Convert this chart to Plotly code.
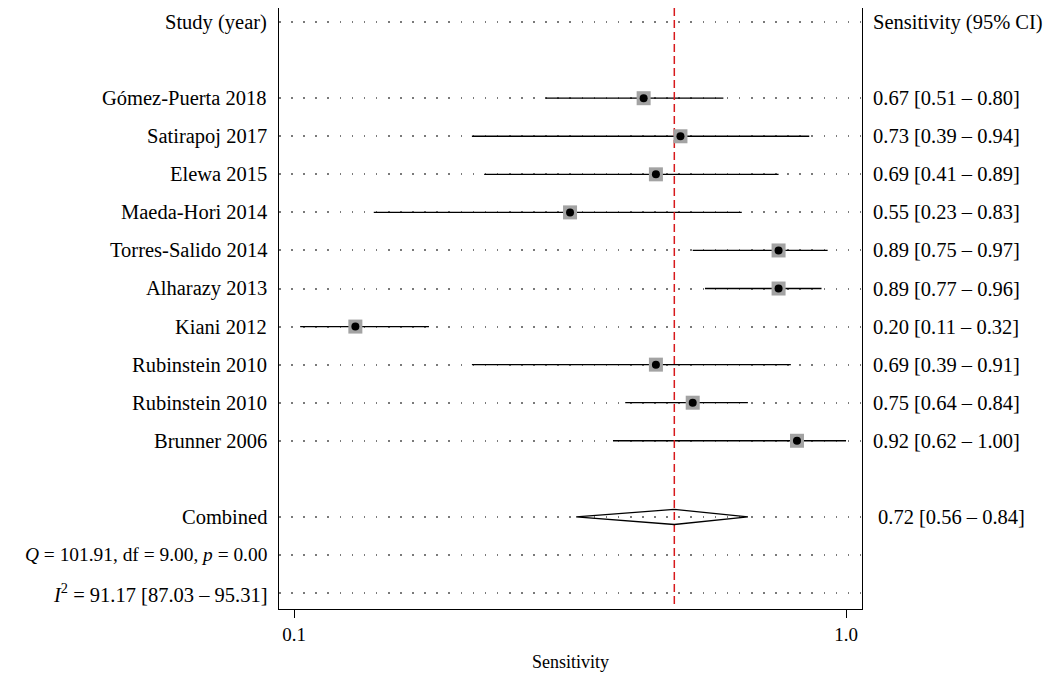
import plotly.graph_objects as go

# ---------------- data ----------------
studies = ["Gómez-Puerta 2018", "Satirapoj 2017", "Elewa 2015", "Maeda-Hori 2014",
           "Torres-Salido 2014", "Alharazy 2013", "Kiani 2012", "Rubinstein 2010",
           "Rubinstein 2010", "Brunner 2006"]
sens = [0.67, 0.73, 0.69, 0.55, 0.89, 0.89, 0.20, 0.69, 0.75, 0.92]
lower = [0.51, 0.39, 0.41, 0.23, 0.75, 0.77, 0.11, 0.39, 0.64, 0.62]
upper = [0.80, 0.94, 0.89, 0.83, 0.97, 0.96, 0.32, 0.91, 0.84, 1.00]

pooled = 0.72
pooled_lo = 0.56
pooled_hi = 0.84

header_left = "Study (year)"
header_right = "Sensitivity (95% CI)"
combined_label = "Combined"
q_label = "<i>Q</i> = 101.91, df = 9.00, <i>p</i> = 0.00"
i2_label = "<i>I</i><sup>2</sup> = 91.17 [87.03 – 95.31]"
x_title = "Sensitivity"
tick_vals = [0.1, 1.0]
tick_text = ["0.1", "1.0"]

# ---------------- layout helpers ----------------
FONT = "Liberation Serif"
FS = 20.5
header_row = 0
study_rows = list(range(2, 2 + len(studies)))
comb_row = study_rows[-1] + 2
q_row = comb_row + 1
i2_row = comb_row + 2
y_top = -0.37
y_bot = i2_row + 0.42

fig = go.Figure()

# whiskers
wx, wy = [], []
for lo, hi, r in zip(lower, upper, study_rows):
    wx += [lo, hi, None]
    wy += [r, r, None]
fig.add_trace(go.Scatter(x=wx, y=wy, mode="lines",
                         line=dict(color="black", width=1.3), hoverinfo="skip"))

# red dashed line at pooled estimate
fig.add_trace(go.Scatter(x=[pooled, pooled], y=[y_top, i2_row + 0.3], mode="lines",
                         line=dict(color="#d7191c", width=1.5, dash="8px,4px"),
                         hoverinfo="skip"))

# squares
fig.add_trace(go.Scatter(x=sens, y=study_rows, mode="markers",
                         marker=dict(symbol="square", size=14, color="#a3a3a3",
                                     line=dict(width=0))))
# dots
fig.add_trace(go.Scatter(x=sens, y=study_rows, mode="markers",
                         marker=dict(symbol="circle", size=8, color="black")))

# diamond
h = 0.2
fig.add_trace(go.Scatter(x=[pooled_lo, pooled, pooled_hi, pooled, pooled_lo],
                         y=[comb_row, comb_row - h, comb_row, comb_row + h, comb_row],
                         mode="lines", line=dict(color="black", width=1.3),
                         hoverinfo="skip"))

# ---------------- annotations ----------------
ann = []
def left(text, row, size=FS):
    ann.append(dict(text=text, xref="paper", x=0, xanchor="right", xshift=-10,
                    yref="y", y=row, yanchor="middle", showarrow=False,
                    font=dict(family=FONT, size=size, color="black")))

def right(text, row, shift=9):
    ann.append(dict(text=text, xref="paper", x=1, xanchor="left", xshift=shift,
                    yref="y", y=row, yanchor="middle", showarrow=False,
                    font=dict(family=FONT, size=FS, color="black")))

left(header_left, header_row)
right(header_right, header_row)
for s, e, lo, hi, r in zip(studies, sens, lower, upper, study_rows):
    left(s, r)
    right(f"{e:.2f} [{lo:.2f} – {hi:.2f}]", r)
left(combined_label, comb_row)
right(f"{pooled:.2f} [{pooled_lo:.2f} – {pooled_hi:.2f}]", comb_row, shift=14)
left(q_label, q_row, size=19.4)
left(i2_label, i2_row)

grid_rows = [header_row] + study_rows + [comb_row, q_row, i2_row]

fig.update_layout(
    width=1049, height=680,
    margin=dict(l=279, r=187, t=8, b=71),
    paper_bgcolor="white", plot_bgcolor="white",
    showlegend=False,
    annotations=ann,
    font=dict(family=FONT, size=FS, color="black"),
    xaxis=dict(range=[0.0755, 1.026], tickvals=tick_vals, ticktext=tick_text,
               ticks="outside", ticklen=8, tickwidth=1.3, tickcolor="black",
               showline=True, linecolor="black", linewidth=1.3, mirror=False,
               showgrid=False, zeroline=False,
               tickfont=dict(family=FONT, size=19, color="black"),
               title=dict(text=x_title, font=dict(family=FONT, size=18, color="black"),
                          standoff=11)),
    yaxis=dict(range=[y_bot, y_top], tickvals=grid_rows, showticklabels=False,
               ticks="", showgrid=True, gridcolor="#7a7a7a", gridwidth=1.6,
               griddash="1.6px,10.5px",
               showline=True, linecolor="black", linewidth=1.3, mirror=True,
               zeroline=False),
)

fig.write_html("out.html")
